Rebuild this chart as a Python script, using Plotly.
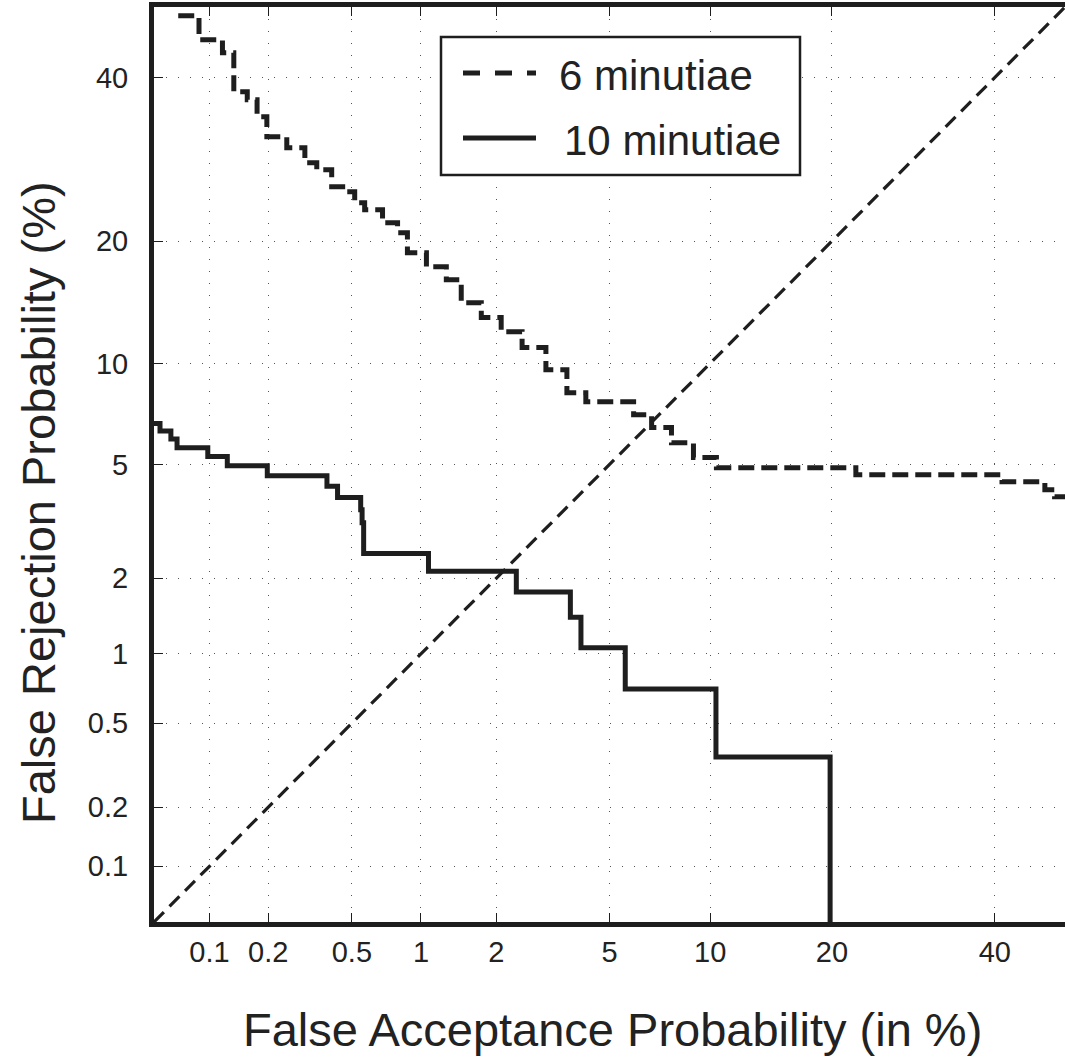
import plotly.graph_objects as go
from statistics import NormalDist

# ---------------- data (percent) ----------------
TICK_VALUES = [0.1, 0.2, 0.5, 1, 2, 5, 10, 20, 40]
TICK_LABELS = ["0.1", "0.2", "0.5", "1", "2", "5", "10", "20", "40"]
AXIS_MIN, AXIS_MAX = 0.05, 50

# 6 minutiae (dashed) staircase: level start FAR and level FRR
FAR_6 = [0.068, 0.088, 0.117, 0.134, 0.157, 0.176, 0.197, 0.247, 0.302, 0.344,
         0.404, 0.454, 0.515, 0.571, 0.685, 0.796, 0.877, 1.054, 1.272, 1.46,
         1.75, 2.085, 2.494, 3.04, 3.60, 4.175, 5.96, 6.77, 7.76, 8.98,
         10.40, 22.5, 41.0, 47.1, 48.5, 50]
FRR_6 = [48.75, 45.32, 43.47, 38.03, 36.95, 34.66, 32.05, 30.65, 28.77, 27.93,
         25.91, 25.33, 24.07, 23.30, 21.90, 20.85, 18.85, 17.52, 16.34, 14.38,
         13.20, 12.15, 11.03, 9.61, 8.27, 7.79, 7.13, 6.52, 5.86, 5.26,
         4.88, 4.63, 4.39, 4.13, 3.91, 3.91]

# 10 minutiae (solid) staircase
FAR_10 = [0.05, 0.054, 0.062, 0.067, 0.098, 0.124, 0.198, 0.384, 0.43, 0.548,
          0.556, 0.565, 1.075, 2.375, 3.70, 4.02, 5.61, 10.37, 19.81]
FRR_10 = [6.71, 6.36, 6.01, 5.65, 5.30, 4.95, 4.59, 4.24, 3.89, 3.53,
          3.18, 2.47, 2.12, 1.77, 1.41, 1.06, 0.71, 0.35, 0.0]

# equal error line
DIAG = [0.05, 50]

SERIES_NAMES = ["6 minutiae", "10 minutiae"]

# ---------------- normal-deviate (probit) scale ----------------
ND = NormalDist()


def probit(p_pct):
    p = min(max(p_pct / 100.0, 1e-6), 1 - 1e-6)
    return ND.inv_cdf(p)


def pz(values):
    return [probit(v) for v in values]


# ---------------- layout geometry (pixels) ----------------
W, H = 1065, 1057
L, R, T, B = 154, 0, 7, 135
PW, PH = W - L - R, H - T - B


def px_x(px):
    return (px - L) / PW


def px_y(py):
    return (H - B - py) / PH


INK = "#1e1e1e"
FONT = "Liberation Sans, Arial, sans-serif"

fig = go.Figure()

fig.add_trace(go.Scatter(
    x=pz(DIAG), y=pz(DIAG), mode="lines",
    line=dict(color=INK, width=3.2, dash="14px,8px"),
    showlegend=False, hoverinfo="skip"))

fig.add_trace(go.Scatter(
    x=pz(FAR_6), y=pz(FRR_6), mode="lines", line_shape="hv", name=SERIES_NAMES[0],
    line=dict(color=INK, width=5, dash="16px,7px"), showlegend=False))

fig.add_trace(go.Scatter(
    x=pz(FAR_10), y=pz(FRR_10), mode="lines", line_shape="hv", name=SERIES_NAMES[1],
    line=dict(color=INK, width=5), showlegend=False))

axis_common = dict(
    tickmode="array",
    tickvals=pz(TICK_VALUES),
    ticktext=TICK_LABELS,
    range=[probit(AXIS_MIN), probit(AXIS_MAX)],
    showgrid=True,
    gridcolor="#555555",
    gridwidth=1,
    griddash="1px,11px",
    zeroline=False,
    showline=True,
    linecolor=INK,
    linewidth=5,
    ticks="inside",
    ticklen=9,
    tickwidth=1,
    tickcolor=INK,
    tickfont=dict(family=FONT, size=29, color="#222222"),
)

fig.update_xaxes(**axis_common, mirror="allticks", ticklabelstandoff=0)
fig.update_yaxes(**axis_common, mirror=False, ticklabelstandoff=15)

shapes = []
# legend box
shapes.append(dict(type="rect", xref="paper", yref="paper",
                   x0=px_x(441), x1=px_x(800), y0=px_y(175), y1=px_y(37),
                   line=dict(color=INK, width=2.5), fillcolor="white", layer="above"))
shapes.append(dict(type="line", xref="paper", yref="paper",
                   x0=px_x(463), x1=px_x(536), y0=px_y(73), y1=px_y(73),
                   line=dict(color=INK, width=5, dash="17px,15px"), layer="above"))
shapes.append(dict(type="line", xref="paper", yref="paper",
                   x0=px_x(463), x1=px_x(536), y0=px_y(138), y1=px_y(138),
                   line=dict(color=INK, width=5), layer="above"))

annotations = [
    dict(text=SERIES_NAMES[0], xref="paper", yref="paper", x=px_x(557), y=px_y(76),
         xanchor="left", yanchor="middle", showarrow=False,
         font=dict(family=FONT, size=42, color="#222222")),
    dict(text=SERIES_NAMES[1], xref="paper", yref="paper", x=px_x(562), y=px_y(140),
         xanchor="left", yanchor="middle", showarrow=False,
         font=dict(family=FONT, size=42, color="#222222")),
    dict(text="False Acceptance Probability (in %)", xref="paper", yref="paper",
         x=px_x(612), y=px_y(1029), xanchor="center", yanchor="middle", showarrow=False,
         font=dict(family=FONT, size=47, color="#222222")),
    dict(text="False Rejection Probability (%)", xref="paper", yref="paper",
         x=px_x(38), y=px_y(503), xanchor="center", yanchor="middle", showarrow=False,
         textangle=-90, font=dict(family=FONT, size=47, color="#222222")),
]

fig.update_layout(
    width=W, height=H,
    margin=dict(l=L, r=R, t=T, b=B, pad=0),
    paper_bgcolor="white", plot_bgcolor="white",
    showlegend=False,
    shapes=shapes,
    annotations=annotations,
)

fig.write_html(
    "out.html",
    config={"displayModeBar": False},
    post_script="document.body.style.margin='0px';document.body.style.overflow='hidden';",
)
